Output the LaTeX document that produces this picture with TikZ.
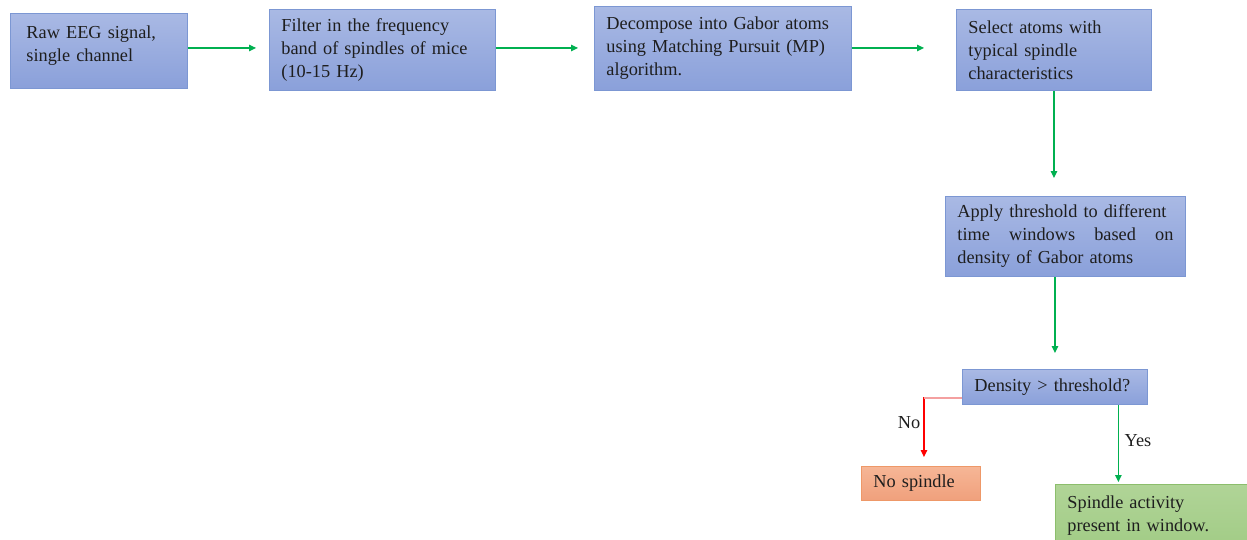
\documentclass[tikz,border=0pt]{standalone}
\usepackage{fontspec}
\setmainfont{Liberation Serif}
\usetikzlibrary{arrows.meta}
\pgfdeclarelayer{conn}
\pgfsetlayers{conn,main}
\definecolor{bluetop}{HTML}{A9B9E4}
\definecolor{bluebot}{HTML}{8AA0DA}
\definecolor{blueedge}{HTML}{7C97D3}
\definecolor{orgtop}{HTML}{F6B696}
\definecolor{orgbot}{HTML}{F0A07C}
\definecolor{orgedge}{HTML}{EE9868}
\definecolor{grntop}{HTML}{B0D497}
\definecolor{grnbot}{HTML}{A2CC86}
\definecolor{grnedge}{HTML}{8CBE6C}
\definecolor{arrgreen}{HTML}{00B050}
\definecolor{nopink}{HTML}{F4A0A0}
\definecolor{txt}{HTML}{1E1E1E}
\hyphenpenalty=10000
\exhyphenpenalty=10000
\begin{document}
\begin{tikzpicture}[x=1pt,y=-1pt,
  every node/.style={font=\fontsize{18.3}{23}\selectfont, text=txt},
  box/.style={draw=blueedge, line width=0.9pt, top color=bluetop, bottom color=bluebot,
    anchor=north west, align=left, inner ysep=0pt},
  nobox/.style={draw=orgedge, line width=0.9pt, top color=orgtop, bottom color=orgbot,
    anchor=north west, align=left, inner ysep=0pt},
  yesbox/.style={draw=grnedge, line width=0.9pt, top color=grntop, bottom color=grnbot,
    anchor=north west, align=left, inner ysep=0pt},
  arr/.style={draw=arrgreen, line width=1.2pt, -{Triangle[length=7pt,width=6.5pt,fill=arrgreen]}},
  noarr/.style={draw=red, line width=1.2pt, -{Triangle[length=7pt,width=6.5pt,fill=red]}},
  pinkline/.style={draw=nopink, line width=1.2pt},
  lab/.style={inner sep=0pt}
]
\useasboundingbox (0,0) rectangle (1247,539);
\clip (0,0) rectangle (1247,539);

\node[box, inner xsep=16pt, text width=145pt, minimum height=75pt] (n1) at (10,13)
  {Raw EEG signal,\\ single channel\\[-8pt]\mbox{}};
\node[box, inner xsep=12pt, text width=202pt, minimum height=81pt] (n2) at (269,9)
  {Filter in the frequency\\ band of spindles of mice\\ (10-15 Hz)};
\node[box, inner xsep=12pt, text width=233pt, minimum height=84pt] (n3) at (594,6)
  {Decompose into Gabor atoms\\ using Matching Pursuit (MP)\\ algorithm.};
\node[box, inner xsep=12pt, text width=171pt, minimum height=81pt] (n4) at (956,9)
  {Select atoms with\\ typical spindle\\ characteristics};
\node[box, inner xsep=12pt, text width=216pt, minimum height=80pt] (n5) at (945,196)
  {Apply threshold to different\\ \makebox[216pt][s]{time\hfil windows\hfil based\hfil on}\\ density of Gabor atoms};
\node[box, inner xsep=12pt, text width=161pt, minimum height=35pt] (n6) at (962,369)
  {Density > threshold?};
\node[nobox, inner xsep=12pt, text width=95pt, minimum height=34pt] (n7) at (861,466)
  {No spindle};
\node[yesbox, inner xsep=12pt, text width=190pt, minimum height=62pt] (n8) at (1055,484)
  {Spindle activity\\ present in window.};

\node[lab] (lno) at (909,423) {No};
\node[lab] (lyes) at (1138,441) {Yes};

\begin{pgfonlayer}{conn}
\coordinate (nostart) at ([yshift=-11pt]n6.west);
\coordinate (noend) at ([xshift=3pt]n7.north);
\draw[arr, shorten >=13pt] ([yshift=3pt]n1.east) -- ([yshift=3pt]n1.east -| n2.west);
\draw[arr, shorten >=16pt] ([yshift=2pt]n2.east) -- ([yshift=2pt]n2.east -| n3.west);
\draw[arr, shorten >=32pt] ([yshift=0.5pt]n3.east) -- ([yshift=0.5pt]n3.east -| n4.west);
\draw[arr, shorten >=18pt] (n4.south) -- (n4.south |- n5.north);
\draw[arr, shorten >=16pt] (n6.north |- n5.south) -- (n6.north);
\draw[noarr, shorten >=9pt] (nostart) -| (noend);
\draw[pinkline] (nostart) -- (nostart -| noend);
\draw[arr, shorten >=2pt] ([xshift=-29.5pt]n6.south east) -- ([xshift=-29.5pt]n6.south east |- n8.north);
\end{pgfonlayer}
\end{tikzpicture}
\end{document}
